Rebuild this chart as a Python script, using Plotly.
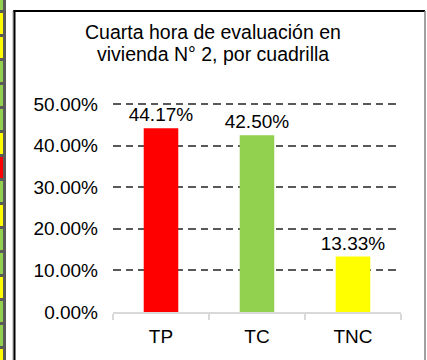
import plotly.graph_objects as go

# Chart data
categories = ["TP", "TC", "TNC"]
shares = [0.4417, 0.4250, 0.1333]
bar_colors = ["#FF0000", "#92D050", "#FFFF00"]
title_lines = ["Cuarta hora de evaluación en", "vivienda N° 2, por cuadrilla"]

# Colour cells of the neighbouring sheet column, top to bottom
strip_colors = ["#92D050", "#FFFF00", "#FFFF00", "#92D050", "#92D050", "#92D050",
                "#FFFF00", "#FF0000", "#92D050", "#FFFF00", "#92D050", "#92D050",
                "#FFFF00", "#92D050", "#92D050", "#FFFF00"]

W, H = 427, 360
ML, MR, MT, MB = 113, 26, 102, 48
PW, PH = W - ML - MR, H - MT - MB
FONT = "Liberation Sans, Arial, sans-serif"


def px(x):
    return (x - ML) / PW


def py(y):
    return (H - MB - y) / PH


fig = go.Figure(go.Bar(
    x=categories, y=shares,
    marker=dict(color=bar_colors, line=dict(width=0)),
    texttemplate="%{y:.2%}", textposition="outside",
    constraintext="none", cliponaxis=False,
    textfont=dict(family=FONT, size=19, color="#000000"),
    width=0.36,
))

shapes = []
# sheet column strip at the left edge
shapes.append(dict(type="rect", xref="paper", yref="paper",
                   x0=px(0), x1=px(6), y0=py(0), y1=py(H),
                   fillcolor="#5A5A5A", line=dict(width=0), layer="above"))
for i, c in enumerate(strip_colors):
    top = -11 + 24 * i
    shapes.append(dict(type="rect", xref="paper", yref="paper",
                       x0=px(0), x1=px(3), y0=py(max(top, 0)), y1=py(min(top + 21, H)),
                       fillcolor=c, line=dict(width=0), layer="above"))
# chart frame
shapes.append(dict(type="line", xref="paper", yref="paper",
                   x0=px(13), x1=px(13), y0=py(11), y1=py(H),
                   line=dict(color="#A0A0A0", width=1), layer="above"))
shapes.append(dict(type="line", xref="paper", yref="paper",
                   x0=px(14.5), x1=px(14.5), y0=py(10), y1=py(H),
                   line=dict(color="#000000", width=2), layer="above"))
shapes.append(dict(type="line", xref="paper", yref="paper",
                   x0=px(13.5), x1=px(425), y0=py(11), y1=py(11),
                   line=dict(color="#000000", width=2), layer="above"))
shapes.append(dict(type="line", xref="paper", yref="paper",
                   x0=px(425), x1=px(425), y0=py(11), y1=py(H),
                   line=dict(color="#808080", width=1.5), layer="above"))

annotations = [
    dict(text=title_lines[0], xref="paper", yref="paper", x=px(213), y=py(32),
         xanchor="center", yanchor="middle", showarrow=False,
         font=dict(family=FONT, size=19.5, color="#000000")),
    dict(text=title_lines[1], xref="paper", yref="paper", x=px(213), y=py(54),
         xanchor="center", yanchor="middle", showarrow=False,
         font=dict(family=FONT, size=19.5, color="#000000")),
]

fig.update_layout(
    width=W, height=H,
    margin=dict(l=ML, r=MR, t=MT, b=MB, pad=0),
    paper_bgcolor="#FFFFFF", plot_bgcolor="#FFFFFF",
    showlegend=False,
    shapes=shapes, annotations=annotations,
    font=dict(family=FONT, size=19, color="#000000"),
)
fig.update_xaxes(
    type="category", automargin=False,
    showline=True, linecolor="#D9D9D9", linewidth=1.5,
    ticks="outside", tickson="boundaries", ticklen=6, tickcolor="#D9D9D9", tickwidth=1.5,
    ticklabelstandoff=6,
    showgrid=False, zeroline=False,
    tickfont=dict(family=FONT, size=19, color="#000000"),
)
fig.update_yaxes(
    range=[0, 0.505], tickvals=[0, 0.1, 0.2, 0.3, 0.4, 0.5], tickformat=".2%",
    automargin=False,
    showline=False, zeroline=False, ticks="",
    showgrid=True, gridcolor="#595959", gridwidth=1.5, griddash="7.5px,5px",
    ticklabelstandoff=14,
    tickfont=dict(family=FONT, size=19, color="#000000"),
)

fig.write_html("out.html")
